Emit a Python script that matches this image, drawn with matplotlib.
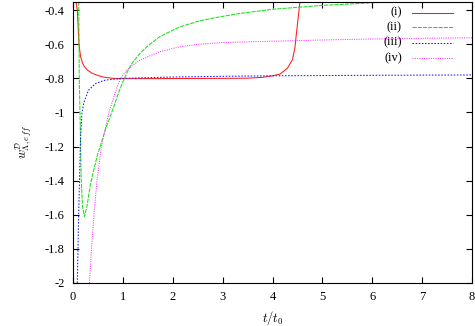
import matplotlib
matplotlib.use('Agg')
import matplotlib.pyplot as plt

plt.rcParams.update({
    'font.family': 'serif',
    'font.serif': ['Liberation Serif', 'DejaVu Serif'],
    'mathtext.fontset': 'cm',
    'font.size': 9,
})

# --- data ---
x_i = [0.06, 0.086, 0.10, 0.12, 0.15, 0.19, 0.23, 0.29, 0.37, 0.47, 0.6, 0.8, 1.0, 2.0, 3.0,
       3.5, 3.8, 4.0, 4.15, 4.3, 4.4, 4.45, 4.48, 4.52, 4.55]
y_i = [-0.35, -0.40, -0.48, -0.60, -0.67, -0.71, -0.732, -0.752, -0.768, -0.78, -0.792, -0.800,
       -0.802, -0.801, -0.800, -0.799, -0.794, -0.785, -0.775, -0.74, -0.69, -0.62, -0.535,
       -0.43, -0.35]

x_ii = [0.115, 0.125, 0.14, 0.165, 0.19, 0.23, 0.28, 0.35, 0.48, 0.65, 0.82, 0.9, 1.0,
        1.1, 1.2, 1.34, 1.5, 1.74, 2.14, 2.55, 2.95, 3.35, 4.0, 5.0, 6.0, 7.0, 8.0]
y_ii = [-0.35, -0.80, -1.00, -1.40, -1.55, -1.61, -1.55, -1.42, -1.26, -1.10, -0.965, -0.895,
        -0.82, -0.755, -0.705, -0.655, -0.61, -0.555, -0.498, -0.462, -0.439, -0.419, -0.395,
        -0.372, -0.357, -0.343, -0.332]

x_iii = [0.086, 0.10, 0.114, 0.13, 0.146, 0.16, 0.18, 0.22, 0.31, 0.45, 0.65, 1.0,
         2.0, 3.0, 4.0, 6.0, 8.0]
y_iii = [-2.0, -1.8, -1.59, -1.4, -1.2, -1.1, -1.0, -0.94, -0.87, -0.83, -0.81, -0.80,
         -0.792, -0.788, -0.785, -0.782, -0.780]

x_iv = [0.33, 0.37, 0.42, 0.48, 0.57, 0.72, 0.85, 0.95, 1.1, 1.34, 1.74, 2.14, 2.55,
        3.0, 4.0, 5.0, 6.0, 7.0, 8.0]
y_iv = [-2.0, -1.8, -1.6, -1.4, -1.2, -1.0, -0.88, -0.80, -0.745, -0.693, -0.644, -0.615,
        -0.599, -0.59, -0.582, -0.575, -0.569, -0.565, -0.562]

labels = ['(i)', '(ii)', '(iii)', '(iv)']
colors = ['#ff1a1a', '#1ae01a', '#1a1aff', '#ff33ff']
styles = ['-', (0, (4, 1)), (0, (1.5, 1.5)), (0, (1, 1.2))]

fig = plt.figure(figsize=(4.75, 3.26), dpi=100)
ax = fig.add_axes([0.1537, 0.132, 0.84, 0.863])

series = [(x_i, y_i), (x_ii, y_ii), (x_iii, y_iii), (x_iv, y_iv)]
for (xs, ys), c, ls in zip(series, colors, styles):
    ax.plot(xs, ys, color=c, linestyle=ls, linewidth=0.75)

# gnuplot-like key, right aligned labels with samples on the right
rows = [0.961, 0.909, 0.854, 0.800]
for lab, c, ls, yy in zip(labels, colors, styles, rows):
    ax.text(0.824, yy, lab, transform=ax.transAxes, ha='right', va='center')
    ax.plot([0.849, 0.952], [yy, yy], transform=ax.transAxes, color=c,
            linestyle=ls, linewidth=0.75)

ax.set_xlim(0, 8)
ax.set_ylim(-2, -0.35)
ax.set_xticks(range(0, 9))
ax.set_yticks([-2, -1.8, -1.6, -1.4, -1.2, -1, -0.8, -0.6, -0.4])
ax.set_yticklabels(['-2', '-1.8', '-1.6', '-1.4', '-1.2', '-1', '-0.8', '-0.6', '-0.4'])
ax.tick_params(direction='in', top=True, right=True, length=4, width=0.8, pad=6)
for s in ax.spines.values():
    s.set_linewidth(0.8)

ax.set_xlabel(r'$t/t_0$', labelpad=4)
ax.set_ylabel(r'$w^{\mathcal{D}}_{\Lambda,eff}$', labelpad=8)

fig.savefig('out.png', dpi=100)
